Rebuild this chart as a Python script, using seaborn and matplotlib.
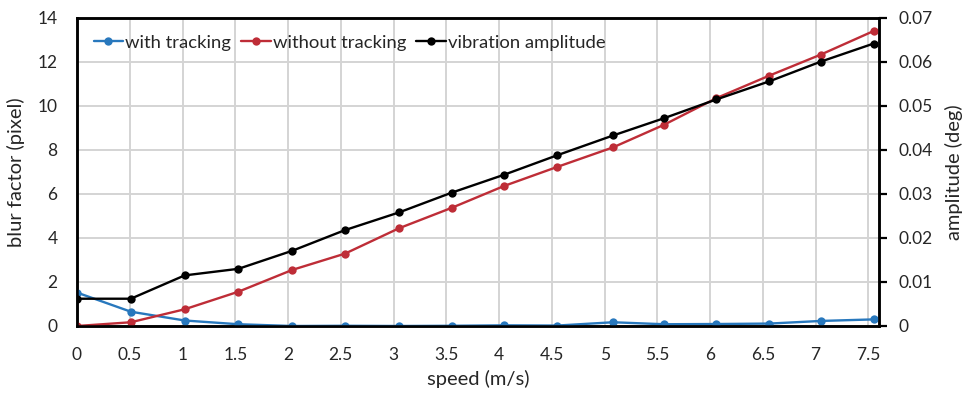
import matplotlib
matplotlib.use("Agg")
import matplotlib.pyplot as plt
import seaborn as sns
import pandas as pd
from matplotlib.lines import Line2D

speed = [0, 0.51, 1.02, 1.53, 2.04, 2.54, 3.05, 3.55, 4.05, 4.55, 5.08, 5.56, 6.06, 6.56, 7.05, 7.55]
with_tracking = [1.52, 0.65, 0.25, 0.08, 0.0, 0.01, 0.0, 0.01, 0.03, 0.02, 0.17, 0.08, 0.09, 0.11, 0.23, 0.30]
without_tracking = [0.0, 0.17, 0.76, 1.56, 2.55, 3.29, 4.44, 5.37, 6.37, 7.23, 8.12, 9.14, 10.36, 11.38, 12.34, 13.41]
vibration_amplitude = [0.0062, 0.0062, 0.0115, 0.0130, 0.0171, 0.0218, 0.0258, 0.0303, 0.0344, 0.0388,
                       0.0433, 0.0472, 0.0515, 0.0556, 0.0601, 0.0642]
x_ticks = [0, 0.5, 1, 1.5, 2, 2.5, 3, 3.5, 4, 4.5, 5, 5.5, 6, 6.5, 7, 7.5]
x_tick_labels = ["0", "0.5", "1", "1.5", "2", "2.5", "3", "3.5", "4", "4.5", "5", "5.5", "6", "6.5", "7", "7.5"]
left_ticks = [0, 2, 4, 6, 8, 10, 12, 14]
right_ticks = [0, 0.01, 0.02, 0.03, 0.04, 0.05, 0.06, 0.07]
right_tick_labels = ["0", "0.01", "0.02", "0.03", "0.04", "0.05", "0.06", "0.07"]

sns.set_style("white")
plt.rcParams['font.family'] = ['Lato', 'DejaVu Sans']

BLUE = "#2878BD"
RED = "#BE2D37"
BLACK = "#000000"
GRID = "#D4D4D4"
FS = 12.5
LFS = 14.5

df_blur = pd.DataFrame({"speed": speed + speed,
                        "blur": with_tracking + without_tracking,
                        "series": ["with tracking"] * len(speed) + ["without tracking"] * len(speed)})
df_amp = pd.DataFrame({"speed": speed, "amp": vibration_amplitude, "series": ["vibration amplitude"] * len(speed)})

fig = plt.figure(figsize=(9.68, 3.97), dpi=100)
ax = fig.add_axes([77 / 968, 1 - 326 / 397, (879 - 77) / 968, (326 - 18) / 397])
ax2 = ax.twinx()

sns.lineplot(data=df_blur, x="speed", y="blur", hue="series",
             palette={"with tracking": BLUE, "without tracking": RED},
             marker="o", markersize=6, markeredgewidth=0, linewidth=1.7, ax=ax, legend=False, zorder=3)
sns.lineplot(data=df_amp, x="speed", y="amp", hue="series", palette={"vibration amplitude": BLACK},
             marker="o", markersize=6, markeredgewidth=0, linewidth=1.7, ax=ax2, legend=False, zorder=3)

ax.set_xlim(0, 7.6)
ax.set_ylim(0, 14)
ax2.set_ylim(0, 0.07)

ax.set_xticks(x_ticks)
ax.set_xticklabels(x_tick_labels)
ax.set_yticks(left_ticks)
ax2.set_yticks(right_ticks)
ax2.set_yticklabels(right_tick_labels)

ax.grid(True, color=GRID, linewidth=1.4)
ax.set_axisbelow(True)

ax.tick_params(axis="both", length=0, labelsize=FS, pad=14)
ax.tick_params(axis="x", pad=15)
ax2.tick_params(axis="y", length=6, width=1.6, direction="out", labelsize=FS, pad=8, color="black")

for a in (ax, ax2):
    for s in a.spines.values():
        s.set_visible(True)
        s.set_color("black")
        s.set_linewidth(1.8)

ax.set_xlabel("speed (m/s)", fontsize=LFS, labelpad=5)
ax.set_ylabel("blur factor (pixel)", fontsize=LFS, labelpad=9)
ax2.set_ylabel("amplitude (deg)", fontsize=LFS, labelpad=9)

handles = [Line2D([], [], color=BLUE, marker="o", markersize=6, markeredgewidth=0, linewidth=1.7),
           Line2D([], [], color=RED, marker="o", markersize=6, markeredgewidth=0, linewidth=1.7),
           Line2D([], [], color=BLACK, marker="o", markersize=6, markeredgewidth=0, linewidth=1.7)]
labels = ["with tracking", "without tracking", "vibration amplitude"]
ax2.legend(handles, labels, loc="upper left", ncol=3, frameon=False, fontsize=13.3,
           bbox_to_anchor=(0.0, 1.0), handlelength=1.6, handletextpad=0.1, columnspacing=0.55,
           borderaxespad=0.5, borderpad=0.4)

fig.savefig("out.png", dpi=100)
